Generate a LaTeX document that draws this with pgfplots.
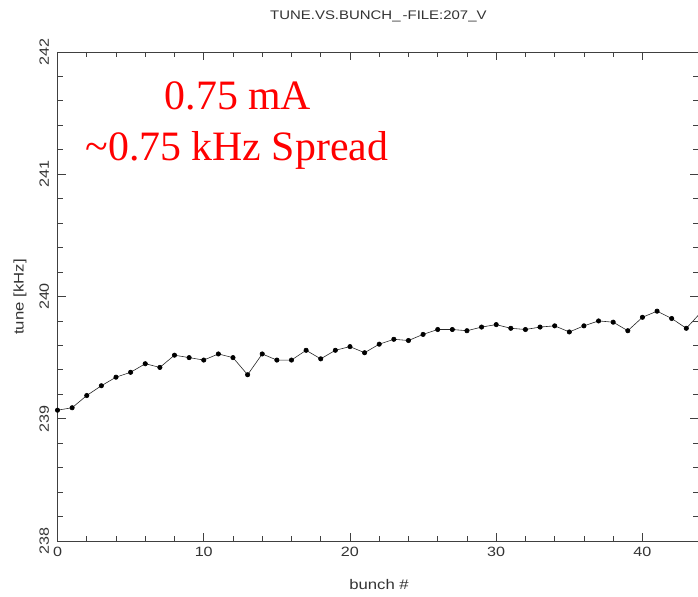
\documentclass[border=0pt]{standalone}
\usepackage{fontspec}
\usepackage{pgfplots}
\pgfplotsset{compat=1.18}
\setmainfont{Liberation Serif}
\newfontfamily\plotsans[FakeStretch=1.2]{Liberation Sans}
\newfontfamily\redserif{Liberation Serif}
\begin{document}
\begin{tikzpicture}
\path[use as bounding box] (-57.5bp,-56bp) rectangle (640.5bp,541bp);
\begin{axis}[
  at={(0,0)}, anchor=south west,
  scale only axis,
  width=640.5bp, height=489bp,
  xmin=0, xmax=43.8, ymin=238, ymax=242,
  xtick={0,10,20,30,40}, ytick={238,239,240,241,242},
  minor x tick num=4, minor y tick num=4,
  tick align=inside,
  major tick length=8bp, minor tick length=5bp,
  axis line style={black!75, line width=0.8pt},
  every tick/.style={black!75, line width=0.8pt},
  /pgf/number format/assume math mode=true,
  ticklabel style={font=\plotsans\fontsize{13.5}{13.5}\selectfont, text=black!80},
  xticklabel shift=3bp,
  yticklabel style={rotate=90, anchor=south},
  yticklabel shift=5bp,
  title={TUNE.VS.BUNCH\_\,-FILE:207\_V},
  title style={font=\plotsans\fontsize{12.5}{12.5}\selectfont, text=black!80, at={(axis description cs:0.501,1.0614)}, anchor=center},
  xlabel={bunch \#},
  xlabel style={font=\plotsans\fontsize{14}{14}\selectfont, text=black!80, at={(axis description cs:0.502,-0.090)}, anchor=center},
  ylabel={tune [kHz]},
  ylabel style={font=\plotsans\fontsize{14}{14}\selectfont, text=black!80, at={(axis description cs:-0.0585,0.499)}, anchor=center, rotate=0},
  clip=true,
]
\addplot[black!85, line width=0.6pt, mark=*, mark size=2.2bp, mark options={fill=black, draw=black}] coordinates {
(0,239.07) (1,239.09) (2,239.19) (3,239.27) (4,239.34) (5,239.38) (6,239.45) (7,239.42)
(8,239.52) (9,239.50) (10,239.48) (11,239.53) (12,239.50) (13,239.36) (14,239.53) (15,239.48)
(16,239.48) (17,239.56) (18,239.49) (19,239.56) (20,239.59) (21,239.54) (22,239.61) (23,239.65)
(24,239.64) (25,239.69) (26,239.73) (27,239.73) (28,239.72) (29,239.75) (30,239.77) (31,239.74)
(32,239.73) (33,239.75) (34,239.76) (35,239.71) (36,239.76) (37,239.80) (38,239.79) (39,239.72)
(40,239.83) (41,239.88) (42,239.82) (43,239.74) (44,239.87)
};
\node[anchor=base, text=red, font=\redserif\fontsize{42}{42}\selectfont, inner sep=0pt] at (axis description cs:0.2818,0.8814) {0.75 mA};
\node[anchor=base, text=red, font=\redserif\fontsize{42}{42}\selectfont, inner sep=0pt] at (axis description cs:0.2800,0.7791) {\textasciitilde0.75 kHz Spread};
\end{axis}
\end{tikzpicture}
\end{document}
